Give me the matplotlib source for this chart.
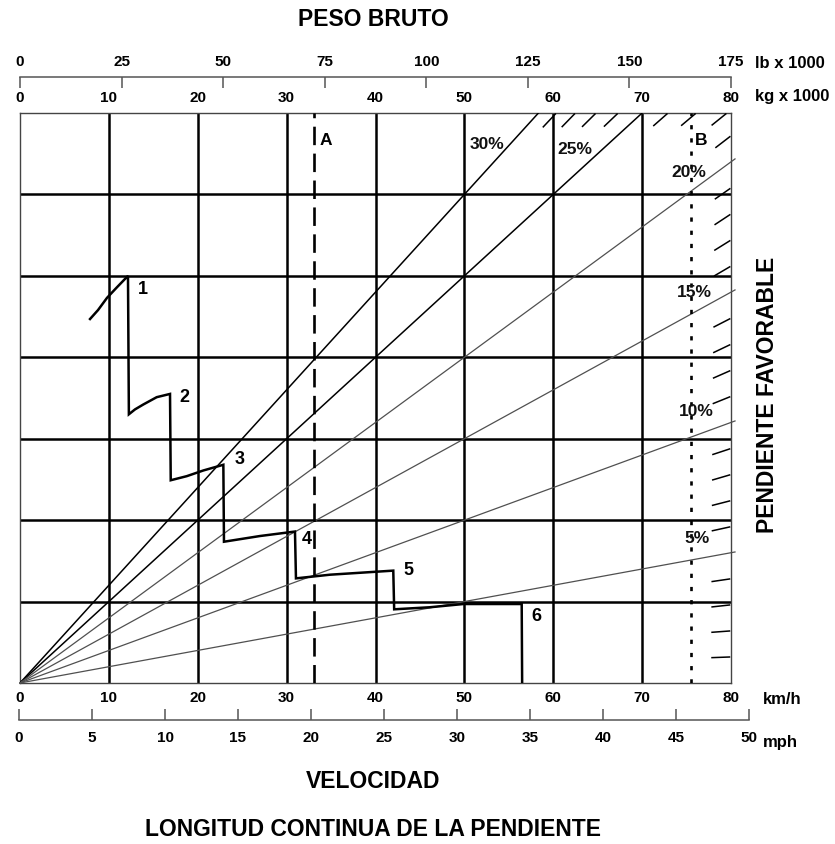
import matplotlib
matplotlib.use('Agg')
import matplotlib.pyplot as plt
import numpy as np

W, H = 835, 844

# axis scales
kmh_ticks = [0, 10, 20, 30, 40, 50, 60, 70, 80]
kg_ticks = [0, 10, 20, 30, 40, 50, 60, 70, 80]
lb_ticks = [0, 25, 50, 75, 100, 125, 150, 175]
mph_ticks = [0, 5, 10, 15, 20, 25, 30, 35, 40, 45, 50]

# grade lines (percent -> rows per km/h)
grade_pct = [30, 25, 20, 15, 10, 5]
grade_slope = [0.12, 0.10, 0.08, 0.06, 0.04, 0.02]
grade_lbl_x = [52.5, 62.4, 75.2, 75.9, 76.1, 76.2]
grade_lbl_y = [6.61, 6.55, 6.27, 4.79, 3.33, 1.78]
minor_grades = [g for g in range(1, 31) if g % 5]

# retarder curve, ranges 1..6
curve_x = [7.88, 8.78, 9.79, 10.91, 12.15, 12.25, 12.94, 13.87, 15.38, 16.88,
           16.96, 18.76, 20.63, 22.88, 22.95, 27.0, 30.94, 31.05, 34.88, 42.0,
           42.1, 46.1, 49.9, 56.45, 56.5]
curve_y = [4.47, 4.58, 4.73, 4.86, 5.0, 3.30, 3.36, 3.42, 3.51, 3.55,
           2.49, 2.54, 2.61, 2.68, 1.735, 1.805, 1.86, 1.285, 1.33, 1.38,
           0.905, 0.93, 0.97, 0.97, 0.0]
gear_lbl = ['1', '2', '3', '4', '5', '6']
gear_x = [13.8, 18.45, 24.75, 32.25, 43.7, 58.1]
gear_y = [4.83, 3.51, 2.74, 1.76, 1.38, 0.82]

line_a_x = 33.1
line_b_x = 75.5

BOLD = ['Liberation Sans', 'DejaVu Sans']
NARROW = ['Liberation Sans Narrow', 'Liberation Sans', 'DejaVu Sans']
TICK_FS = 11

fig = plt.figure(figsize=(W / 100, H / 100), dpi=100)

def fx(px):
    return px / W

def fy(py):
    return 1 - py / H

# main chart
x0, x1, y0, y1 = 20, 731, 113, 683
ax = fig.add_axes([fx(x0), fy(y1), (x1 - x0) / W, (y1 - y0) / H])
ax.set_xlim(0, 80)
ax.set_ylim(0, 7)
for s in ax.spines.values():
    s.set_linewidth(1.0)
    s.set_color('#444444')
ax.set_yticks([])
ax.set_xticks(kmh_ticks)
ax.set_xticklabels([str(v) for v in kmh_ticks])
ax.tick_params(axis='x', length=0, labelsize=TICK_FS, top=True, labeltop=True)
for t in ax.xaxis.get_major_ticks():
    for lab in (t.label1, t.label2):
        lab.set_fontfamily(BOLD)
        lab.set_fontweight('bold')
    t.set_pad(6)

# heavy grid
for v in kmh_ticks[1:-1]:
    ax.axvline(v, color='black', lw=1.8, zorder=2)
for r in range(1, 7):
    ax.axhline(r, color='black', lw=1.8, zorder=2)

# grade lines from origin
for pct, s in zip(grade_pct, grade_slope):
    if s * 80 > 7:
        ax.plot([0, 7 / s], [0, 7], color='black', lw=1.1, zorder=3)
    else:
        ax.plot([0, 80.45], [0, 80.45 * s], color='#505050', lw=0.9, zorder=3,
                clip_on=False)
for pct, lx, ly in zip(grade_pct, grade_lbl_x, grade_lbl_y):
    ax.text(lx, ly, f'{pct}%', ha='center', va='center', fontsize=12.5,
            fontweight='bold', family=NARROW, color='#111111', zorder=5)

# 1% ticks along the border
ppx = (x1 - x0) / 80
ppy = (y1 - y0) / 7
for g in minor_grades:
    s = 0.004 * g
    if s * 80 <= 7:
        ex, ey = 80, 80 * s
    else:
        ex, ey = 7 / s, 7
    ux, uy = ppx, s * ppy
    n = np.hypot(ux, uy)
    ux, uy = ux / n, uy / n
    a, b = 1.5, 19
    ax.plot([ex - b * ux / ppx, ex - a * ux / ppx],
            [ey - b * uy / ppy, ey - a * uy / ppy],
            color='black', lw=1.1, zorder=3)

# reference lines A and B
ax.axvline(line_a_x, color='black', lw=1.9, ls=(0, (7.0, 3.2)), zorder=4)
ax.axvline(line_b_x, color='black', lw=1.9, ls=(0, (1.6, 3.4)), zorder=4)
ax.text(line_a_x + 1.3, 6.66, 'A', ha='center', va='center', fontsize=12.5,
        fontweight='bold', family=NARROW)
ax.text(line_b_x + 1.1, 6.66, 'B', ha='center', va='center', fontsize=12.5,
        fontweight='bold', family=NARROW)

# stepped curve
ax.plot(curve_x, curve_y, color='black', lw=1.8, zorder=6, solid_joinstyle='miter')
for t, gx, gy in zip(gear_lbl, gear_x, gear_y):
    ax.text(gx, gy, t, ha='center', va='center', fontsize=13,
            fontweight='bold', family=NARROW, zorder=6)

# lb axis on top
ax_lb = fig.add_axes([fx(x0), fy(77), (x1 - x0) / W, 0.0001])
ax_lb.set_xlim(0, 175)
ax_lb.set_yticks([])
for k in ['left', 'right', 'bottom']:
    ax_lb.spines[k].set_visible(False)
ax_lb.spines['top'].set_color('#555555')
ax_lb.spines['top'].set_linewidth(1.1)
ax_lb.patch.set_visible(False)
ax_lb.xaxis.tick_top()
ax_lb.set_xticks(lb_ticks)
ax_lb.set_xticklabels([str(v) for v in lb_ticks], fontsize=TICK_FS,
                      fontweight='bold', family=BOLD)
ax_lb.tick_params(axis='x', direction='in', length=8, width=1.1, color='#555555', pad=6)

# mph axis at bottom
ax_mph = fig.add_axes([fx(19), fy(720), 730 / W, 0.0001])
ax_mph.set_xlim(0, 50)
ax_mph.set_yticks([])
for k in ['left', 'right', 'top']:
    ax_mph.spines[k].set_visible(False)
ax_mph.spines['bottom'].set_color('#555555')
ax_mph.spines['bottom'].set_linewidth(1.1)
ax_mph.patch.set_visible(False)
ax_mph.set_xticks(mph_ticks)
ax_mph.set_xticklabels([str(v) for v in mph_ticks], fontsize=TICK_FS,
                       fontweight='bold', family=BOLD)
ax_mph.tick_params(axis='x', direction='in', length=8, width=1.1, color='#555555', pad=8)

# units
fig.text(fx(755), fy(63), 'lb x 1000', ha='left', va='center', fontsize=12,
         fontweight='bold', family=BOLD)
fig.text(fx(755), fy(97), 'kg x 1000', ha='left', va='center', fontsize=12,
         fontweight='bold', family=BOLD)
fig.text(fx(763), fy(700), 'km/h', ha='left', va='center', fontsize=12,
         fontweight='bold', family=BOLD)
fig.text(fx(763), fy(742), 'mph', ha='left', va='center', fontsize=12,
         fontweight='bold', family=BOLD)

# titles
fig.text(fx(373), fy(19), 'PESO BRUTO', ha='center', va='center', fontsize=16.5,
         fontweight='bold', family=BOLD)
fig.text(fx(373), fy(781), 'VELOCIDAD', ha='center', va='center', fontsize=16.5,
         fontweight='bold', family=BOLD)
fig.text(fx(373), fy(829), 'LONGITUD CONTINUA DE LA PENDIENTE', ha='center',
         va='center', fontsize=16.5, fontweight='bold', family=BOLD)
fig.text(fx(768), fy(395), 'PENDIENTE FAVORABLE', ha='center', va='center',
         rotation=90, fontsize=16.5, fontweight='bold', family=BOLD)

fig.savefig('out.png', dpi=100)
